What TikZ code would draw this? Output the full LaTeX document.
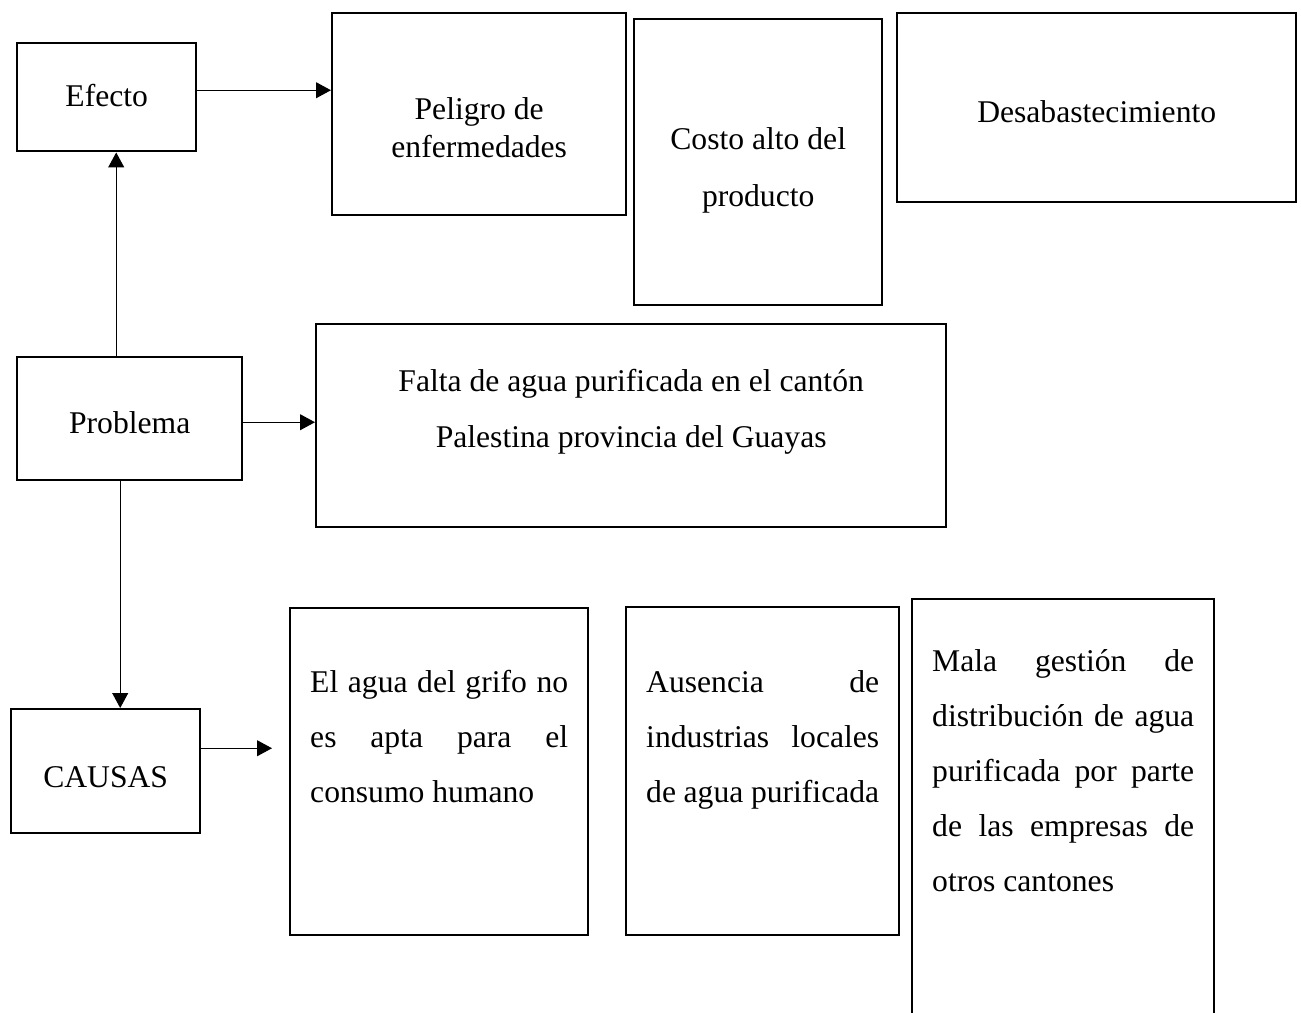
\documentclass[tikz,border=0pt]{standalone}
\usepackage{fontspec}
\setmainfont{Liberation Serif}
\usetikzlibrary{arrows.meta}

% text block of a box: width, height, space above the first line, text
\newcommand{\contenido}[4]{\parbox[c][#2][t]{#1}{\vspace*{#3}#4}}
\newcommand{\linea}[1]{\makebox[\linewidth][s]{#1}}

\begin{document}
\begin{tikzpicture}[x=0.02cm, y=-0.02cm,
  caja/.style={draw, line width=1.4pt, inner xsep=0.4cm, inner ysep=0pt, anchor=north west, font=\fontsize{18}{31.3}\selectfont},
  flecha/.style={-{Triangle[length=8.5pt,width=9pt]}, line width=0.75pt}]
% the picture is measured in pixels of the page, y going down
\useasboundingbox (0,0) rectangle (1301,1012);
\clip (0,0) rectangle (1301,1012);
% The effects
\node[caja] (efecto) at (16,42) {\contenido{2.78cm}{2.16cm}{0.82cm}{\centering Efecto}};
\node[caja] (peligro) at (331,12) {\contenido{5.08cm}{4.04cm}{1.68cm}{\fontsize{18}{21.6}\selectfont\centering Peligro de\\ enfermedades}};
\node[caja] (costo) at (633,18) {\contenido{4.16cm}{5.72cm}{2.16cm}{\fontsize{18}{32.4}\selectfont\centering Costo alto del\\ producto}};
\node[caja] (desabasto) at (896,12) {\contenido{7.18cm}{3.78cm}{1.74cm}{\centering Desabastecimiento}};
% The problem
\node[caja] (problema) at (16,356) {\contenido{3.7cm}{2.46cm}{1.08cm}{\centering Problema}};
\node[caja] (falta) at (315,323) {\contenido{11.8cm}{4.06cm}{0.9cm}{\fontsize{18}{31.9}\selectfont\centering Falta de agua purificada en el cantón\\ Palestina provincia del Guayas}};
% The causes
\node[caja] (causas) at (10,708) {\contenido{2.98cm}{2.48cm}{1.14cm}{\centering CAUSAS}};
\node[caja] (grifo) at (289,607) {\contenido{5.16cm}{6.54cm}{1.24cm}{\linea{El agua del grifo no}\par\linea{es apta para el}\par consumo humano}};
\node[caja] (ausencia) at (625,606) {\contenido{4.66cm}{6.56cm}{1.26cm}{\linea{Ausencia de}\par\linea{industrias locales}\par\linea{de agua purificada}}};
% this one runs off the bottom of the page
\node[caja] (gestion) at (911,598) {\contenido{5.24cm}{8.84cm}{1.0cm}{\linea{Mala gestión de}\par\linea{distribución de agua}\par\linea{purificada por parte}\par\linea{de las empresas de}\par otros cantones}};
% The arrows
\draw[flecha] ([yshift=0.14cm]efecto.east) -- ([yshift=0.14cm]efecto.east -| peligro.west);
\draw[flecha] ([xshift=-0.27cm]problema.north) -- ([xshift=-0.27cm]problema.north |- efecto.south);
\draw[flecha] ([yshift=-0.07cm]problema.east) -- ([yshift=-0.07cm]problema.east -| falta.west);
\draw[flecha] ([xshift=-0.19cm]problema.south) -- ([xshift=-0.19cm]problema.south |- causas.north);
\draw[flecha] ([yshift=0.46cm]causas.east) -- ([yshift=0.46cm,xshift=-0.34cm]causas.east -| grifo.west);
\end{tikzpicture}
\end{document}
